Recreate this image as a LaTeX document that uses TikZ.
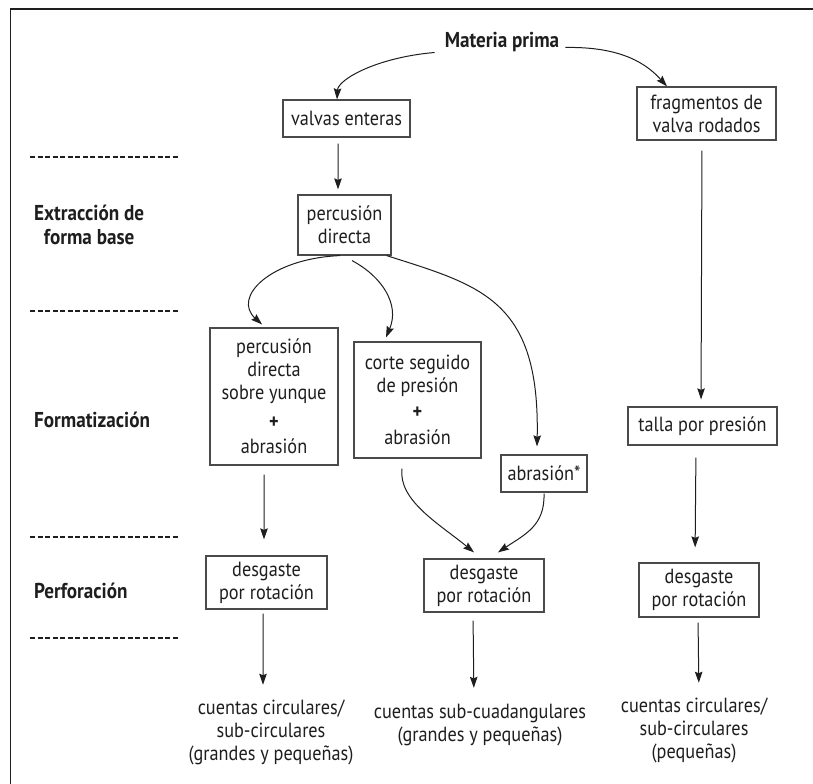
\documentclass[tikz,border=0pt]{standalone}
\usepackage{fontspec}
\setmainfont[FakeStretch=0.89]{PT Sans}
\usepackage{tikz}
\usetikzlibrary{arrows.meta,positioning}
\definecolor{ink}{HTML}{1E1E1E}
\definecolor{boxline}{HTML}{4A4A4A}

\begin{document}
\begin{tikzpicture}[x=1bp,y=1bp,
    every node/.style={font=\fontsize{20.5bp}{23bp}\selectfont, text=ink},
    box/.style={draw=boxline, line width=1.2bp, align=center, inner sep=2bp},
    stage/.style={font=\fontsize{21.5bp}{24bp}\selectfont\bfseries, align=center, inner sep=0pt},
    arr/.style={-{Stealth[length=11bp,width=7.5bp,inset=1.5bp]}, line width=1bp, draw=ink},
    sep/.style={draw=ink, line width=2.5bp, dash pattern=on 5bp off 2.5bp}]
  \useasboundingbox (0,0) rectangle (813,784);
  \draw[line width=1.6bp, draw=ink] (10.5,0) -- (10.5,775) -- (813,775);

  % stages on the left
  \node[stage, anchor=west] (st1) at (34,559) {Extracción de\\forma base};
  \node[stage, anchor=west] (st2) at (34,364) {Formatización};
  \node[stage, anchor=west] (st3) at (34,193) {Perforación};
  \foreach \y in {627,473,247,146}
    \draw[sep] (30,\y) -- (179,\y);

  % boxes
  \node[stage] (mp) at (502,742) {Materia prima};
  \node[box, minimum width=127bp, minimum height=37bp] (ve) at (346.5,665.5) {valvas enteras};
  \node[box, minimum width=139bp, minimum height=53bp] (fr) at (706.5,670.5) {fragmentos de\\valva rodados};
  \node[box, minimum width=93bp, minimum height=60bp] (pd) at (344.5,559) {percusión\\directa};
  \node[box, minimum width=128bp, minimum height=137bp] (py) at (274,387.5)
    {percusión\\directa\\sobre yunque\\[6bp]\textbf{+}\\[2bp]abrasión};
  \node[box, minimum width=127bp, minimum height=116bp] (cs) at (417.5,384)
    {corte seguido\\de presión\\[3bp]\textbf{+}\\[3bp]abrasión};
  \node[box, minimum width=86bp, minimum height=37bp] (ab) at (544,310.5) {abrasión*};
  \node[box, minimum width=149bp, minimum height=38bp] (tp) at (702.5,358) {talla por presión};
  \node[box, minimum width=121bp, minimum height=53bp] (d1) at (266.5,201.5) {desgaste\\por rotación};
  \node[box, minimum width=120bp, minimum height=53bp] (d2) at (484,198.5) {desgaste\\por rotación};
  \node[box, minimum width=120bp, minimum height=54bp] (d3) at (699,194) {desgaste\\por rotación};

  % results
  \node[align=center, inner sep=0pt] (c1) at (271,51.5) {cuentas circulares/\\sub-circulares\\(grandes y pequeñas)};
  \node[align=center, inner sep=0pt] (c2) at (480,59) {cuentas sub-cuadangulares\\(grandes y pequeñas)};
  \node[align=center, inner sep=0pt] (c3) at (694,53.5) {cuentas circulares/\\sub-circulares\\(pequeñas)};

  % arrows
  \draw[arr] ([xshift=-10bp,yshift=-5bp]mp.base west) .. controls +(-58,-5) and +(1,20) .. ([xshift=-9.5bp]ve.north);
  \draw[arr] ([xshift=6bp]mp.base east) .. controls +(57,1) and +(-20,22) .. ([xshift=-39.5bp]fr.north);
  \draw[arr, shorten <=6bp, shorten >=5bp] ([xshift=-8.5bp]ve.south) -- ([xshift=-6.5bp]pd.north);
  \draw[arr, shorten <=10bp, shorten >=7bp] ([xshift=-4.5bp]fr.south) -- ([xshift=-1.5bp]tp.north);
  \draw[arr] ([xshift=-4.5bp]pd.south) .. controls +(-70,-3) and +(-30,27) .. ([xshift=-12bp,yshift=3bp]py.north);
  \draw[arr] ([xshift=7.5bp,yshift=-5bp]pd.south) .. controls +(30,-16) and +(14,33) .. ([xshift=-31.5bp,yshift=4bp]cs.north);
  \draw[arr] ([xshift=-5bp]pd.south east) .. controls +(94,-30) and +(3,147) .. ([xshift=-7bp,yshift=8bp]ab.north);
  \draw[arr, shorten <=9bp, shorten >=16bp] ([xshift=-10bp]py.south) -- ([xshift=-2.5bp]d1.north);
  \draw[arr] ([xshift=-15.5bp,yshift=-10bp]cs.south) .. controls +(-4,-32) and +(-34,28) .. ([xshift=-10bp,yshift=6bp]d2.north);
  \draw[arr] ([yshift=-1bp]ab.south) .. controls +(1,-32) and +(27,18) .. ([xshift=14bp,yshift=6bp]d2.north);
  \draw[arr, shorten <=12bp, shorten >=15bp] ([xshift=-6.5bp]tp.south) -- ([xshift=-4bp]d3.north);
  \draw[arr, shorten <=4bp, shorten >=15bp] ([xshift=-3.5bp]d1.south) -- ([xshift=-8bp]c1.north);
  \draw[arr, shorten <=8bp, shorten >=16bp] ([xshift=-11bp]d2.south) -- ([xshift=-6bp]c2.north);
  \draw[arr, shorten <=5bp, shorten >=15bp] ([xshift=-1bp]d3.south) -- ([xshift=5bp]c3.north);
\end{tikzpicture}
\end{document}
